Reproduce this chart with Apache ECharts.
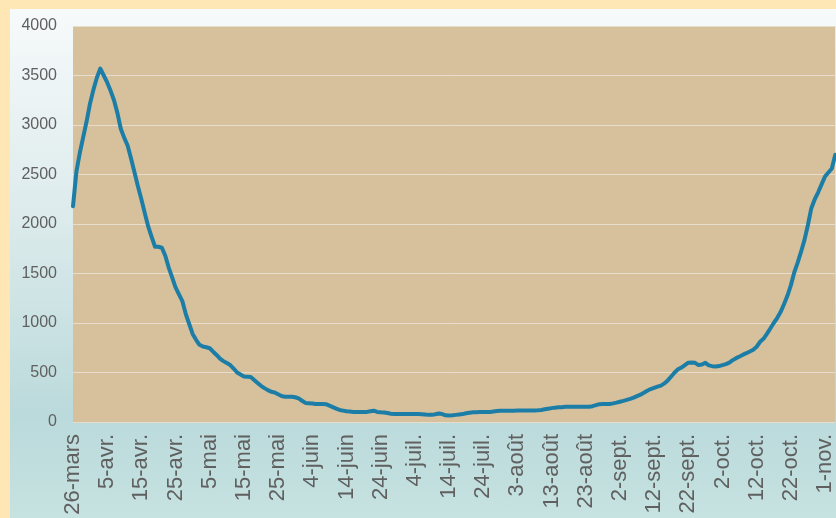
<!DOCTYPE html>
<html>
<head>
<meta charset="utf-8">
<script src="https://cdn.jsdelivr.net/npm/echarts@6/dist/echarts.min.js"></script>
<style>
  html, body { margin: 0; padding: 0; width: 836px; height: 518px; background: #FFE7B5; overflow: hidden; }
  #chart { position: absolute; left: 10px; top: 9px; width: 826px; height: 509px;
    background: linear-gradient(to bottom, #F7FAFB 0%, #DDEBEC 40%, #BBDADB 80%, #C6E2E1 100%); }
</style>
</head>
<body>
<div id="chart"></div>
<script>
// Daily values from 26 March to 4 November
const values = [
  2180,2530,2720,2880,3040,3220,3360,3480,3570,3500,
  3430,3345,3250,3120,2960,2870,2790,2660,2520,2380,
  2250,2110,1975,1870,1770,1770,1760,1680,1560,1460,
  1360,1290,1220,1090,990,890,830,780,762,755,
  745,710,677,640,615,595,575,540,500,480,
  460,458,455,425,395,365,342,322,305,298,
  280,262,256,256,256,250,238,215,193,190,
  186,182,182,182,180,165,150,135,122,115,
  108,105,102,100,100,100,102,108,114,102,
  98,96,90,84,82,82,82,82,82,82,
  81,80,78,75,72,72,78,86,80,68,
  66,68,72,76,80,88,94,98,99,100,
  101,101,102,106,110,113,114,114,114,114,
  115,115,115,115,115,116,118,122,128,134,
  140,145,148,150,153,155,155,155,155,155,
  155,155,160,170,180,182,182,182,188,196,
  205,214,224,234,246,262,276,296,316,333,
  345,357,368,390,420,460,500,532,550,575,
  599,600,598,575,580,598,572,564,560,565,
  575,585,600,625,645,662,680,695,712,730,
  760,810,840,890,945,1000,1050,1110,1190,1275,
  1380,1510,1610,1720,1840,1990,2160,2250,2320,2400,
  2480,2520,2560,2700
];
const monthsFr = ['janv.','févr.','mars','avr.','mai','juin','juil.','août','sept.','oct.','nov.','déc.'];
const startDay = Date.UTC(2020, 2, 26);
const categories = values.map(function (_, i) {
  const d = new Date(startDay + i * 86400000);
  return d.getUTCDate() + '-' + monthsFr[d.getUTCMonth()];
});
const yTicks = [0, 500, 1000, 1500, 2000, 2500, 3000, 3500, 4000];

const chart = echarts.init(document.getElementById('chart'), null, { renderer: 'canvas' });
chart.setOption({
  backgroundColor: 'transparent',
  animation: false,
  grid: {
    left: 63, top: 17, right: 0, bottom: 96,
    show: true, backgroundColor: '#D7C19C', borderWidth: 0
  },
  xAxis: {
    type: 'category',
    data: categories,
    boundaryGap: false,
    axisLine: { show: false },
    axisTick: { show: false },
    splitLine: { show: false },
    axisLabel: {
      interval: 9, rotate: 90, margin: 12,
      color: '#606060', fontSize: 22, fontFamily: 'Liberation Sans'
    }
  },
  yAxis: {
    type: 'value',
    min: yTicks[0], max: yTicks[yTicks.length - 1], interval: 500,
    axisLine: { show: false },
    axisTick: { show: false },
    splitLine: { show: true, lineStyle: { color: '#E7DDCC', width: 1 } },
    axisLabel: {
      margin: 16, color: '#606060', fontSize: 16, fontFamily: 'Liberation Sans',
      formatter: function (v) { return String(v); }
    }
  },
  series: [{
    type: 'line',
    data: values,
    showSymbol: false,
    smooth: false,
    lineStyle: { color: '#1C7EA7', width: 4, join: 'round', cap: 'round' },
    itemStyle: { color: '#1C7EA7' }
  }]
});
</script>
</body>
</html>
